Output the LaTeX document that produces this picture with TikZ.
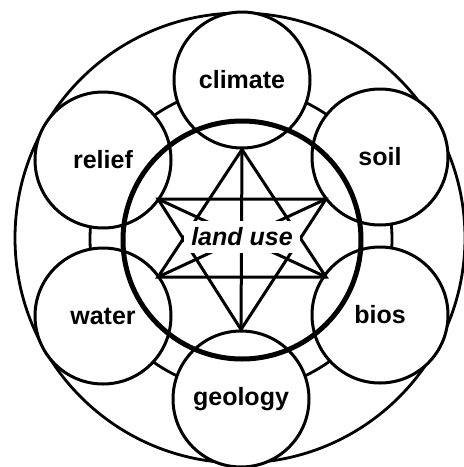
\documentclass[tikz,border=0pt]{standalone}
\usepackage{fontspec}
\setmainfont{Liberation Sans}

\begin{document}
\begin{tikzpicture}[x=1pt, y=-1pt,
  factor/.style={circle, draw, fill=white, line width=3pt, minimum size=136pt, inner sep=0pt, font=\bfseries\fontsize{25}{30}\selectfont},
  ring/.style={circle, draw, line width=2.8pt, inner sep=0pt},
  link/.style={line width=3pt, line join=miter, black},
  core/.style={fill=white, inner xsep=7pt, inner ysep=7pt, font=\bfseries\itshape\fontsize{25}{30}\selectfont}]
\useasboundingbox (0,0) rectangle (464,467);
\node[ring, minimum size=450pt] (outer) at (240,238) {};
\node[ring, minimum size=302pt] (band) at (241,239) {};
\node[factor] (climate) at (242,80) {climate};
\node[factor] (soil) at (380,157) {soil};
\node[factor] (bios) at (380,315) {bios};
\node[factor] (geology) at (241,399) {geology};
\node[factor] (water) at (103,316) {water};
\node[factor] (relief) at (103,160) {relief};
\node[ring, line width=5pt, minimum size=238pt] (inner) at (242,240) {};
\coordinate (ul) at (158,199);
\coordinate (ll) at (158,277);
\coordinate (ur) at (326,199);
\coordinate (lr) at (326,277);
\draw[link] (climate.south) -- (ll) -- (lr) -- cycle;
\draw[link] (geology.north) -- (ul) -- (ur) -- cycle;
\draw[link] (climate.south) -- (geology.north);
\draw[link] (ul) -- (lr);
\draw[link] (ll) -- (ur);
\node[core] (landuse) at (242,237) {land use};
\end{tikzpicture}
\end{document}
